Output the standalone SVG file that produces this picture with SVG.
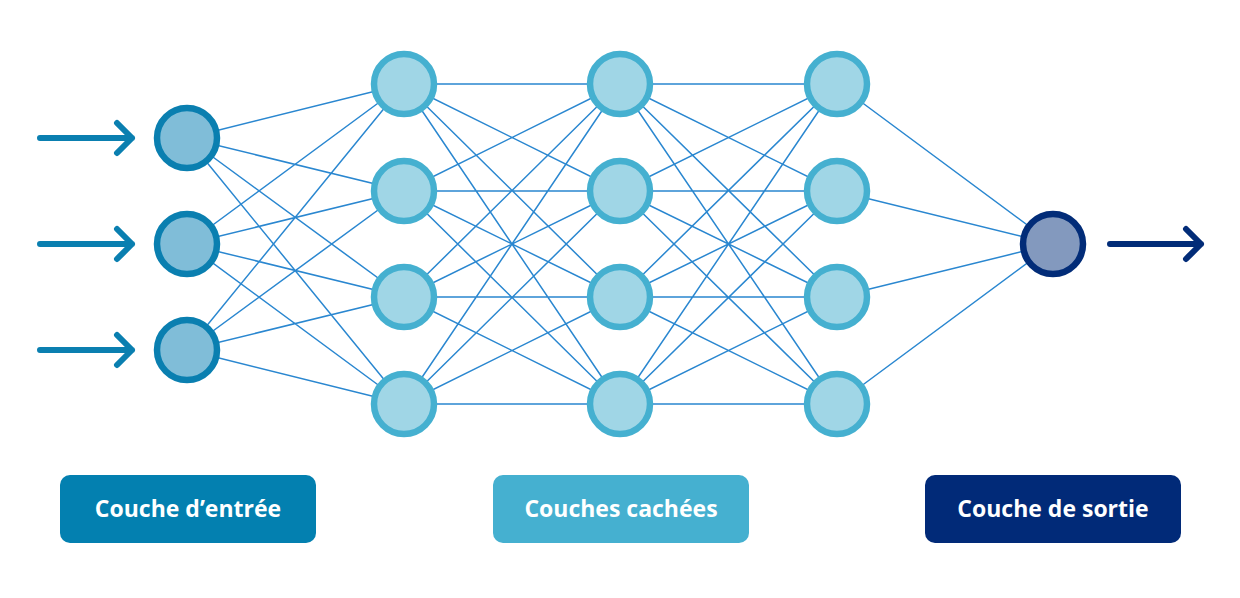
<svg xmlns="http://www.w3.org/2000/svg" width="1240" height="598" viewBox="0 0 1240 598">
<style>
.e{stroke:#2a87d0;stroke-width:1.5;fill:none}
.in{fill:#80bdd8;stroke:#0a7fb0;stroke-width:6.5}
.hd{fill:#a0d6e6;stroke:#45b0d0;stroke-width:6.5}
.out{fill:#8399be;stroke:#022c78;stroke-width:6.5}
.ar{fill:none;stroke-width:6;stroke-linecap:round;stroke-linejoin:round}
.t{font-family:"Open Sans","Liberation Sans",sans-serif;font-weight:bold;font-size:23px;fill:#fff;text-anchor:middle}
</style>
<rect width="1240" height="598" fill="#fff"/>
<g id="connectors">
<path class="e" d="M187 138L404 84M187 138L404 191M187 138L404 297M187 138L404 404M187 244L404 84M187 244L404 191M187 244L404 297M187 244L404 404M187 350L404 84M187 350L404 191M187 350L404 297M187 350L404 404"/>
<path class="e" d="M404 84L620 84M404 84L620 191M404 84L620 297M404 84L620 404M404 191L620 84M404 191L620 191M404 191L620 297M404 191L620 404M404 297L620 84M404 297L620 191M404 297L620 297M404 297L620 404M404 404L620 84M404 404L620 191M404 404L620 297M404 404L620 404"/>
<path class="e" d="M620 84L837 84M620 84L837 191M620 84L837 297M620 84L837 404M620 191L837 84M620 191L837 191M620 191L837 297M620 191L837 404M620 297L837 84M620 297L837 191M620 297L837 297M620 297L837 404M620 404L837 84M620 404L837 191M620 404L837 297M620 404L837 404"/>
<path class="e" d="M837 84L1053 244M837 191L1053 244M837 297L1053 244M837 404L1053 244"/>
<path class="ar" stroke="#0a7fb0" d="M40 138H132M117 123L132 138L117 153M40 244H132M117 229L132 244L117 259M40 350H132M117 335L132 350L117 365"/>
<path class="ar" stroke="#022c78" d="M1110 244H1201M1186 229L1201 244L1186 259"/>
</g>
<g id="input"><circle class="in" cx="187" cy="138" r="30"/><circle class="in" cx="187" cy="244" r="30"/><circle class="in" cx="187" cy="350" r="30"/></g>
<g id="hidden1"><circle class="hd" cx="404" cy="84" r="30"/><circle class="hd" cx="404" cy="191" r="30"/><circle class="hd" cx="404" cy="297" r="30"/><circle class="hd" cx="404" cy="404" r="30"/></g>
<g id="hidden2"><circle class="hd" cx="620" cy="84" r="30"/><circle class="hd" cx="620" cy="191" r="30"/><circle class="hd" cx="620" cy="297" r="30"/><circle class="hd" cx="620" cy="404" r="30"/></g>
<g id="hidden3"><circle class="hd" cx="837" cy="84" r="30"/><circle class="hd" cx="837" cy="191" r="30"/><circle class="hd" cx="837" cy="297" r="30"/><circle class="hd" cx="837" cy="404" r="30"/></g>
<g id="output"><circle class="out" cx="1053" cy="244" r="30"/></g>
<g id="label-in"><rect x="60" y="475" width="256" height="68" rx="10" fill="#0380b0"/><text class="t" x="188" y="517">Couche d’entrée</text></g>
<g id="label-hidden"><rect x="493" y="475" width="256" height="68" rx="10" fill="#45b0d0"/><text class="t" x="621" y="517">Couches cachées</text></g>
<g id="label-out"><rect x="925" y="475" width="256" height="68" rx="10" fill="#012a78"/><text class="t" x="1053" y="517">Couche de sortie</text></g>
</svg>
